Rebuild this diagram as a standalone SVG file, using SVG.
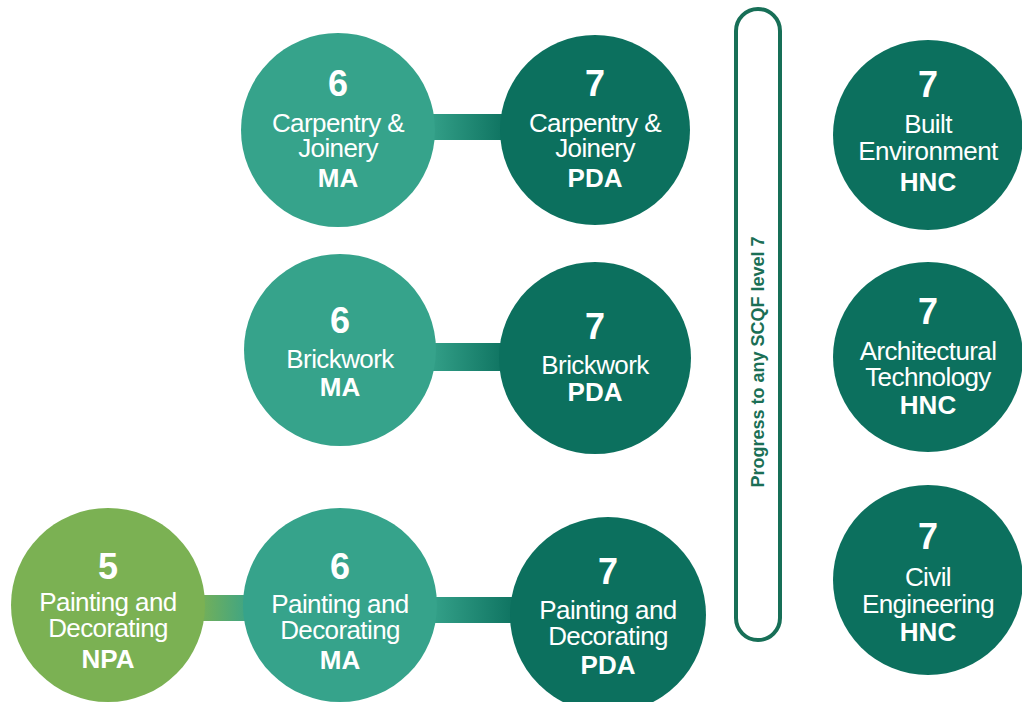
<svg xmlns="http://www.w3.org/2000/svg" width="1022" height="702" viewBox="0 0 1022 702">
<style>
.light{fill:#36a38b}
.dark{fill:#0c705e}
.green{fill:#7bb153}
text{fill:#ffffff;font-family:"Liberation Sans",Arial,sans-serif;text-anchor:middle}
.num{font-size:36px;font-weight:bold}
.lbl{font-size:26px;letter-spacing:-0.6px}
.typ{font-size:26px;font-weight:bold}
.pill{fill:#ffffff;stroke:#176f57;stroke-width:4}
.ptxt{fill:#1b6f55;font-size:18px;font-weight:bold}
</style>
<defs>
<linearGradient id="gLD" x1="0" y1="0" x2="1" y2="0">
<stop offset="0" stop-color="#36a38b"/>
<stop offset="1" stop-color="#0c705e"/>
</linearGradient>
<linearGradient id="gGL" x1="0" y1="0" x2="1" y2="0">
<stop offset="0" stop-color="#7bb153"/>
<stop offset="1" stop-color="#36a38b"/>
</linearGradient>
</defs>
<rect width="1022" height="702" fill="#ffffff"/>
<g id="connectors">
<rect x="425" y="114" width="85" height="26" fill="url(#gLD)"/>
<rect x="425" y="343" width="85" height="28" fill="url(#gLD)"/>
<rect x="195" y="595" width="60" height="26" fill="url(#gGL)"/>
<rect x="428" y="597" width="92" height="26" fill="url(#gLD)"/>
</g>
<g id="cj6"><circle class="light" cx="338" cy="130" r="97"/>
<text class="num" x="338" y="96">6</text><text class="lbl" x="338" y="132">Carpentry &amp;</text><text class="lbl" x="338" y="157">Joinery</text><text class="typ" x="338" y="187">MA</text></g>
<g id="cj7"><circle class="dark" cx="595" cy="130" r="95"/>
<text class="num" x="595" y="96">7</text><text class="lbl" x="595" y="132">Carpentry &amp;</text><text class="lbl" x="595" y="157">Joinery</text><text class="typ" x="595" y="187">PDA</text></g>
<g id="bw6"><circle class="light" cx="340" cy="350" r="96"/>
<text class="num" x="340" y="333">6</text><text class="lbl" x="340" y="368">Brickwork</text><text class="typ" x="340" y="396">MA</text></g>
<g id="bw7"><circle class="dark" cx="595" cy="358" r="96"/>
<text class="num" x="595" y="339">7</text><text class="lbl" x="595" y="374">Brickwork</text><text class="typ" x="595" y="401">PDA</text></g>
<g id="pd5"><circle class="green" cx="108" cy="605" r="97"/>
<text class="num" x="108" y="579">5</text><text class="lbl" x="108" y="611">Painting and</text><text class="lbl" x="108" y="637">Decorating</text><text class="typ" x="108" y="668">NPA</text></g>
<g id="pd6"><circle class="light" cx="340" cy="605" r="97"/>
<text class="num" x="340" y="579">6</text><text class="lbl" x="340" y="613">Painting and</text><text class="lbl" x="340" y="639">Decorating</text><text class="typ" x="340" y="669">MA</text></g>
<g id="pd7"><circle class="dark" cx="608" cy="615" r="98"/>
<text class="num" x="608" y="584">7</text><text class="lbl" x="608" y="619">Painting and</text><text class="lbl" x="608" y="645">Decorating</text><text class="typ" x="608" y="674">PDA</text></g>
<g id="progress"><rect class="pill" x="736" y="9" width="44" height="631" rx="22"/>
<text class="ptxt" transform="translate(764,362) rotate(-90)" x="0" y="0">Progress to any SCQF level 7</text></g>
<g id="hnc-built"><circle class="dark" cx="928" cy="135" r="95"/>
<text class="num" x="928" y="97">7</text><text class="lbl" x="928" y="133">Built</text><text class="lbl" x="928" y="160">Environment</text><text class="typ" x="928" y="191">HNC</text></g>
<g id="hnc-arch"><circle class="dark" cx="928" cy="357" r="95"/>
<text class="num" x="928" y="324">7</text><text class="lbl" x="928" y="360">Architectural</text><text class="lbl" x="928" y="386">Technology</text><text class="typ" x="928" y="414">HNC</text></g>
<g id="hnc-civil"><circle class="dark" cx="928" cy="580" r="95"/>
<text class="num" x="928" y="549">7</text><text class="lbl" x="928" y="586">Civil</text><text class="lbl" x="928" y="613">Engineering</text><text class="typ" x="928" y="641">HNC</text></g>
</svg>
